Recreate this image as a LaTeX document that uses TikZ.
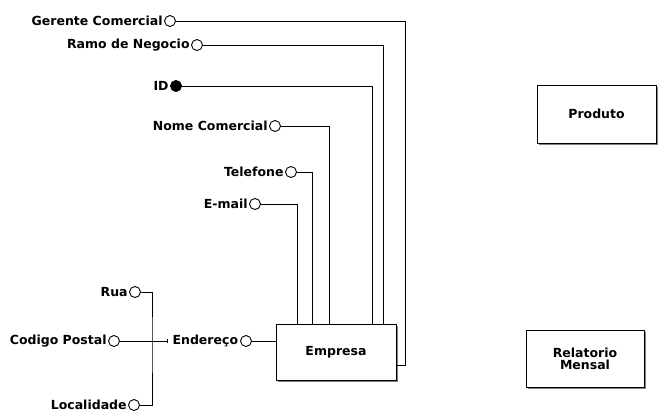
\documentclass[tikz,border=0pt]{standalone}
\usepackage{fontspec}
\setmainfont{DejaVu Sans}
\usetikzlibrary{shadows,arrows.meta}

\begin{document}
\begin{tikzpicture}[x=1pt, y=-1pt, line width=.9pt,
    every node/.style={font=\bfseries\fontsize{12.5}{13}\selectfont},
    attr/.style={draw, circle, minimum size=11pt, inner sep=0pt},
    key/.style={attr, fill=black},
    entity/.style={draw, fill=white, align=center, inner sep=0pt,
      drop shadow={shadow xshift=2pt, shadow yshift=-2pt, fill=gray, opacity=1}}]
    \useasboundingbox (0, 0) rectangle (661, 416);
    % entities
    \node [entity, minimum width=120pt, minimum height=56pt] (empresa) at (336, 352) {Empresa};
    \node [entity, minimum width=119pt, minimum height=58pt] (produto) at (596.5, 114) {Produto};
    \node [entity, minimum width=118pt, minimum height=57pt, font=\bfseries\fontsize{12.5}{12}\selectfont] (relatorio) at (585, 358.5) {Relatorio\\Mensal};

    % attributes of Empresa
    \node [attr] (gc) at (170, 21) {};
    \node [left, inner sep=1pt] (gctxt) at (gc.west) {Gerente Comercial};
    \node [attr] (rn) at (197, 45) {};
    \node [left, inner sep=1pt] (rntxt) at (rn.west) {Ramo de Negocio};
    \node [key] (id) at (176, 86) {};
    \node [left, inner sep=1pt] (idtxt) at (id.west) {ID};
    \node [attr] (nc) at (275, 126) {};
    \node [left, inner sep=1pt] (nctxt) at (nc.west) {Nome Comercial};
    \node [attr] (tel) at (291, 172) {};
    \node [left, inner sep=1pt] (teltxt) at (tel.west) {Telefone};
    \node [attr] (mail) at (255, 204) {};
    \node [left, inner sep=1pt] (mailtxt) at (mail.west) {E-mail};
    \node [attr] (end) at (246, 341) {};
    \node [left, inner sep=1.5pt] (endtxt) at (end.west) {Endereço};

    % attributes of Endereço
    \node [attr] (rua) at (135, 292) {};
    \node [left, inner sep=1pt] (ruatxt) at (rua.west) {Rua};
    \node [attr] (cp) at (114, 341) {};
    \node [left, inner sep=1pt] (cptxt) at (cp.west) {Codigo Postal};
    \node [attr] (loc) at (134, 405) {};
    \node [left, inner sep=1pt] (loctxt) at (loc.west) {Localidade};
    \coordinate (bus) at (152, 341);
    \coordinate (gcturn) at (405, 365);

    \draw (gc) -| (gcturn) -- ([yshift=-13pt]empresa.east);
    \draw (rn) -| ([xshift=47pt]empresa.north);
    \draw (id) -| ([xshift=36pt]empresa.north);
    \draw (nc) -| ([xshift=-7pt]empresa.north);
    \draw (tel) -| ([xshift=-24pt]empresa.north);
    \draw (mail) -| ([xshift=-39pt]empresa.north);
    \draw (end) -- (empresa.west |- end);
    \draw (rua) -| (bus) |- (loc);
    \draw [-{Bar[width=4pt, line width=.9pt]}] (cp) -- ([xshift=-3pt]endtxt.west);
  \end{tikzpicture}
\end{document}
